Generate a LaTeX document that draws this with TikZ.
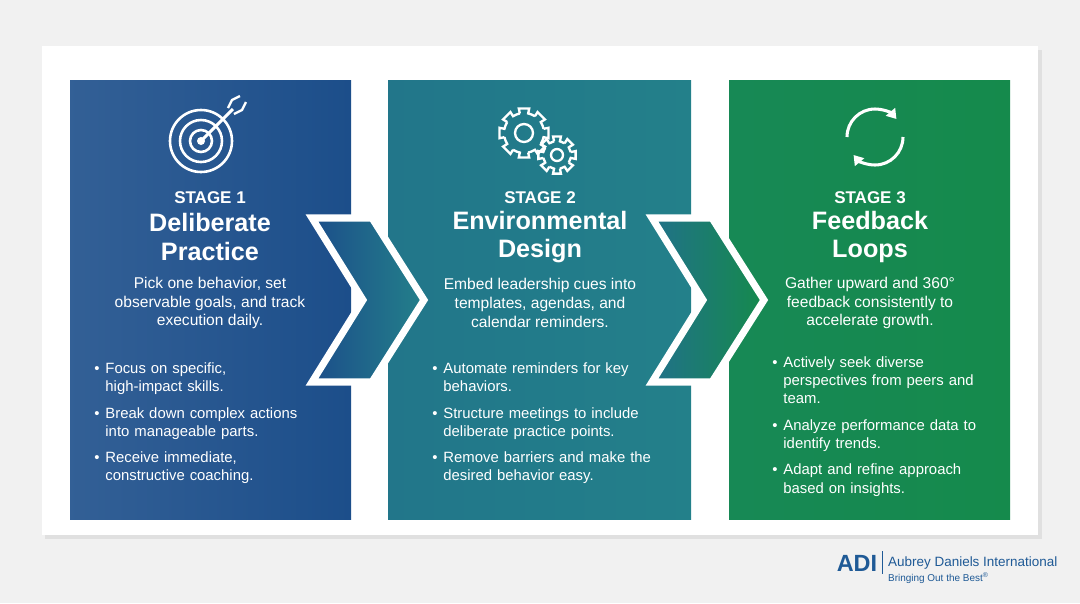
\documentclass[tikz,border=0pt]{standalone}
\usepackage{fontspec}
\setmainfont{Liberation Sans}
\usetikzlibrary{positioning,calc,arrows.meta}
\definecolor{bgGray}{HTML}{F1F1F1}
\definecolor{stageBlue}{HTML}{1C4E8A}
\definecolor{stageTeal}{HTML}{23808A}
\definecolor{stageGreen}{HTML}{158A4C}
\definecolor{adiBlue}{HTML}{1F5A96}
\tikzset{
  stage/.style={text=white, font=\bfseries\fontsize{14.5}{17}\selectfont},
  heading/.style={text=white, align=center, font=\bfseries\fontsize{21.5}{24}\selectfont},
  blurb/.style={text=white, align=center, font=\fontsize{13.3}{16}\selectfont},
  points/.style={text=white, align=left, anchor=north west, text width=210pt,
    font=\fontsize{12.7}{15.5}\selectfont},
  chevron/.style={draw=white, line width=6pt, line join=miter},
  icon/.style={draw=white, line width=2.2pt}
}
\newcommand{\pointlist}[1]{\begin{itemize}\setlength{\itemsep}{3pt}\setlength{\leftmargin}{10pt}#1\end{itemize}}
\begin{document}
\begin{tikzpicture}[x=0.03cm, y=-0.03cm]
  \useasboundingbox (0,0) rectangle (1080,603);
  \fill[bgGray] (0,0) rectangle (1080,603);
  % card
  \fill[black!12] (45,50) rectangle (1042,539);
  \fill[white] (42,46) rectangle (1038,535);
  % panels
  \fill[left color=stageBlue!90!white, right color=stageBlue] (70,80) rectangle (351,519);
  \fill[left color=stageTeal!80!stageBlue, right color=stageTeal] (388,80) rectangle (691,519);
  \fill[left color=stageGreen!85!stageTeal, right color=stageGreen] (729,80) rectangle (1010,519);
  % chevrons
  \filldraw[chevron, left color=stageBlue, right color=stageTeal]
    (312,218) -- (372,218) -- (424,300) -- (372,382) -- (312,382) -- (363,300) -- cycle;
  \filldraw[chevron, left color=stageTeal!70!stageBlue, right color=stageGreen]
    (652,218) -- (712,218) -- (764,300) -- (712,382) -- (652,382) -- (703,300) -- cycle;
  % icon: target
  \coordinate (target) at (201,141);
  \foreach \r in {31,21,11} \draw[icon] (target) circle (\r);
  \fill[white] (target) circle (4);
  \draw[icon, line width=2.6pt] (target) -- (233,109);
  \draw[icon, line width=2pt] (228,108) -- (232,100) -- (240,96) (234,114) -- (242,110) -- (246,102);
  % icon: gears
  \coordinate (gearA) at (524,133);
  \coordinate (gearB) at (557,155);
  \foreach \g/\ro/\ri/\n in {gearA/20/9/8, gearB/14/6/8} {
    \draw[icon, line width=2pt] (\g) circle (\ri);
    \draw[icon, line width=2pt]
      \foreach \k in {1,...,\n} {
        ($(\g)+({360/\n*\k-12}:\ro)$) -- ($(\g)+({360/\n*\k-12}:{\ro+5})$)
        -- ($(\g)+({360/\n*\k+12}:{\ro+5})$) -- ($(\g)+({360/\n*\k+12}:\ro)$)
        arc[start angle={360/\n*\k+12}, end angle={360/\n*(\k+1)-12}, radius=\ro]
      };
  }
  % icon: refresh
  \coordinate (loop) at (875,137);
  \draw[icon, line width=2.6pt, -{Triangle[length=8pt,width=10pt]}]
    ($(loop)+(-180:28)$) arc[start angle=-180, end angle=-40, radius=28];
  \draw[icon, line width=2.6pt, -{Triangle[length=8pt,width=10pt]}]
    ($(loop)+(0:28)$) arc[start angle=0, end angle=140, radius=28];
  % stage 1
  \node[stage] (s1) at (210,198) {STAGE 1};
  \node[heading] (h1) at (210,237) {Deliberate\\Practice};
  \node[blurb] (b1) at (210,303) {Pick one behavior, set\\observable goals, and track\\execution daily.};
  \node[points] (p1) at (72,342) {\pointlist{
    \item Focus on specific,\\high-impact skills.
    \item Break down complex actions\\into manageable parts.
    \item Receive immediate,\\constructive coaching.}};
  % stage 2
  \node[stage] (s2) at (540,198) {STAGE 2};
  \node[heading] (h2) at (540,237) {Environmental\\Design};
  \node[blurb] (b2) at (540,303) {Embed leadership cues into\\templates, agendas, and\\calendar reminders.};
  \node[points] (p2) at (410,342) {\pointlist{
    \item Automate reminders for key\\behaviors.
    \item Structure meetings to include\\deliberate practice points.
    \item Remove barriers and make the\\desired behavior easy.}};
  % stage 3
  \node[stage] (s3) at (870,198) {STAGE 3};
  \node[heading] (h3) at (870,237) {Feedback\\Loops};
  \node[blurb] (b3) at (870,303) {Gather upward and 360°\\feedback consistently to\\accelerate growth.};
  \node[points] (p3) at (750,336) {\pointlist{
    \item Actively seek diverse\\perspectives from peers and\\team.
    \item Analyze performance data to\\identify trends.
    \item Adapt and refine approach\\based on insights.}};
  % logo
  \node[text=adiBlue, font=\bfseries\fontsize{20}{20}\selectfont] (adi) at (857,563) {ADI};
  \draw[adiBlue, line width=0.8pt] (882,551) -- (882,574);
  \node[text=adiBlue, anchor=west, font=\fontsize{11.5}{12}\selectfont] (adiname) at (884,563) {Aubrey Daniels International};
  \node[text=adiBlue, anchor=west, font=\fontsize{8.5}{10}\selectfont] (adimotto) at (884,578) {Bringing Out the Best\textsuperscript{®}};
\end{tikzpicture}
\end{document}
